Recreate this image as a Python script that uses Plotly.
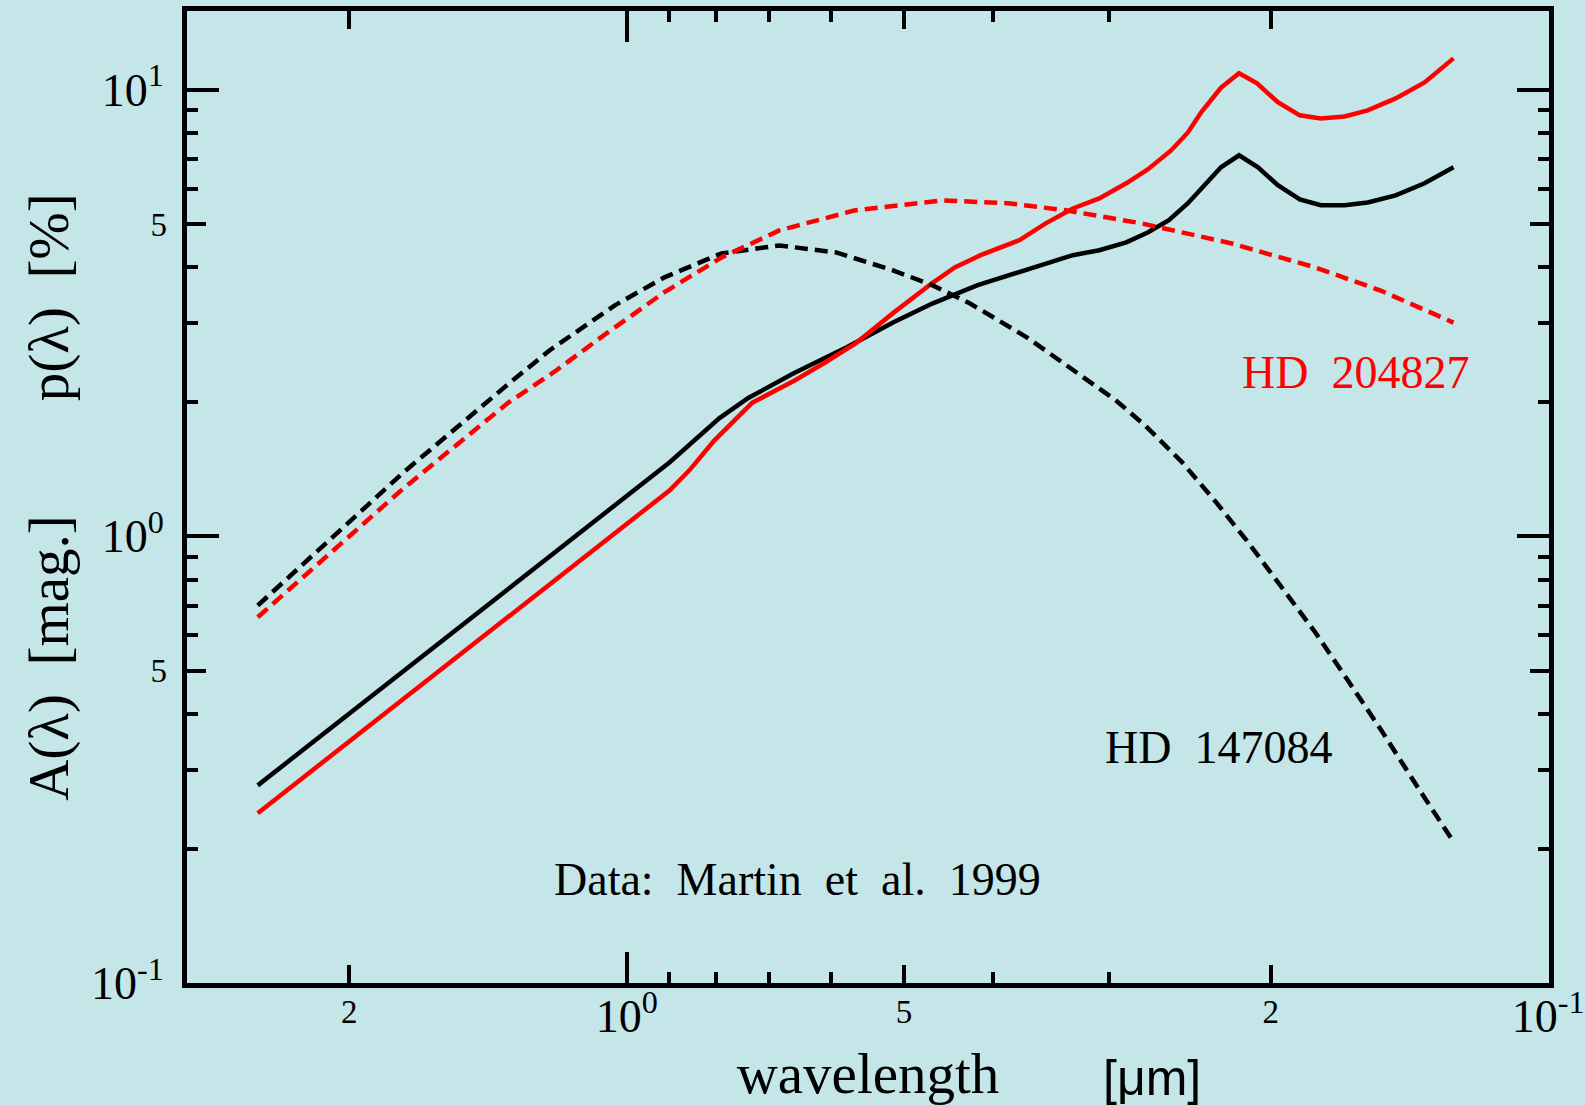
import math
import plotly.graph_objects as go

# ---------------- data ----------------
# HD 147084 extinction A(lambda) [mag]
lam_A147 = [2.514, 0.898, 0.793, 0.738, 0.658, 0.577, 0.514, 0.466, 0.416, 0.375,
            0.328, 0.307, 0.287, 0.272, 0.258, 0.246, 0.236, 0.2265, 0.2165, 0.2065,
            0.1965, 0.186, 0.1765, 0.1663, 0.157, 0.1464, 0.1362, 0.1267]
A147 = [0.277, 1.465, 1.84, 2.04, 2.32, 2.65, 3.01, 3.32, 3.65, 3.90,
        4.26, 4.37, 4.55, 4.79, 5.10, 5.57, 6.11, 6.70, 7.13, 6.70,
        6.11, 5.68, 5.51, 5.51, 5.59, 5.80, 6.17, 6.70]

# HD 204827 extinction A(lambda) [mag]
lam_A204 = [2.514, 0.898, 0.855, 0.803, 0.731, 0.658, 0.609, 0.565, 0.514, 0.466,
            0.4405, 0.413, 0.375, 0.351, 0.328, 0.307, 0.287, 0.272, 0.2566, 0.246,
            0.238, 0.2265, 0.2165, 0.207, 0.1965, 0.186, 0.1765, 0.1663, 0.157,
            0.1464, 0.1362, 0.1267]
A204 = [0.240, 1.268, 1.405, 1.64, 1.99, 2.23, 2.45, 2.70, 3.16, 3.69,
        4.00, 4.26, 4.60, 5.02, 5.42, 5.71, 6.17, 6.63, 7.31, 8.02,
        8.90, 10.1, 10.88, 10.33, 9.37, 8.76, 8.62, 8.71, 8.99,
        9.56, 10.38, 11.75]

# HD 147084 polarization p(lambda) [%]
lam_p147 = [2.514, 1.747, 1.345, 1.212, 1.03, 0.910, 0.789, 0.683, 0.5925, 0.514,
            0.466, 0.424, 0.368, 0.3186, 0.2949, 0.2737, 0.250, 0.2299, 0.2117, 0.195,
            0.179, 0.165, 0.152, 0.1396, 0.1264]
p147 = [0.70, 1.39, 2.19, 2.61, 3.29, 3.80, 4.30, 4.48, 4.32, 3.94,
        3.65, 3.32, 2.79, 2.27, 2.02, 1.77, 1.47, 1.20, 0.97, 0.773,
        0.61, 0.476, 0.370, 0.281, 0.2055]

# HD 204827 polarization p(lambda) [%]
lam_p204 = [2.514, 1.747, 1.345, 1.242, 1.2, 1.051, 0.910, 0.789, 0.683, 0.565,
            0.454, 0.386, 0.334, 0.2764, 0.221, 0.179, 0.152, 0.1267]
p204 = [0.659, 1.28, 1.99, 2.22, 2.33, 2.85, 3.52, 4.21, 4.84, 5.37,
        5.65, 5.57, 5.37, 5.02, 4.53, 4.00, 3.55, 3.01]

# axes
x_range = [3.0, 0.0998]
y_range = [0.1, 15.0]
x_major = [1.0, 0.1]
x_major_text = ["10<sup>0</sup>", "10<sup>-1</sup>"]
x_mid = [2.0, 0.5, 0.2]
x_mid_text = ["2", "5", "2"]
x_minor = [0.9, 0.8, 0.7, 0.6, 0.4, 0.3]
y_major = [0.1, 1.0, 10.0]
y_major_text = ["10<sup>-1</sup>", "10<sup>0</sup>", "10<sup>1</sup>"]
y_mid = [0.5, 5.0]
y_mid_text = ["5", "5"]
y_minor = [0.2, 0.3, 0.4, 0.6, 0.7, 0.8, 0.9, 2, 3, 4, 6, 7, 8, 9]

# ---------------- figure ----------------
BG = "#C4E6E8"
SERIF = "Liberation Serif"
DASH = "13px,7px"
NB = "\u00a0"
LW = 4.5

fig = go.Figure()
fig.add_trace(go.Scatter(x=lam_p147, y=p147, mode="lines", name="p HD 147084",
                         xaxis="x2", yaxis="y2",
                         line=dict(color="black", width=LW, dash=DASH)))
fig.add_trace(go.Scatter(x=lam_p204, y=p204, mode="lines", name="p HD 204827",
                         xaxis="x2", yaxis="y2",
                         line=dict(color="#FF0000", width=LW, dash=DASH)))
fig.add_trace(go.Scatter(x=lam_A147, y=A147, mode="lines", name="A HD 147084",
                         line=dict(color="black", width=LW)))
fig.add_trace(go.Scatter(x=lam_A204, y=A204, mode="lines", name="A HD 204827",
                         line=dict(color="#FF0000", width=LW)))

xr = [math.log10(v) for v in x_range]
yr = [math.log10(v) for v in y_range]

common = dict(type="log", showgrid=False, zeroline=False, ticks="inside",
              tickcolor="black", tickwidth=4, mirror="ticks", automargin=False)

ytitle = ("A(λ)" + NB * 2 + "[mag.]" + NB * 8 + "p(λ)" + NB * 2 + "[%]")

fig.update_layout(
    width=1585, height=1105,
    margin=dict(l=187, r=36, t=11, b=122),
    paper_bgcolor=BG, plot_bgcolor=BG,
    showlegend=False,
    font=dict(family=SERIF, color="black"),
    xaxis=dict(**common, range=xr, showline=True, linewidth=5, linecolor="black",
               ticklen=31, tickvals=x_major, ticktext=x_major_text,
               tickfont=dict(family=SERIF, size=46, color="black"),
               ticklabelstandoff=-11,
               minor=dict(tickvals=x_minor, ticks="inside", ticklen=11, tickwidth=4,
                          tickcolor="black", showgrid=False),
               title=dict(text="wavelength", font=dict(family=SERIF, size=57),
                          standoff=27)),
    xaxis2=dict(**common, range=xr, overlaying="x", anchor="y2", side="bottom",
                showline=False, ticklen=18, tickvals=x_mid, ticktext=x_mid_text,
                tickfont=dict(family=SERIF, size=33, color="black"),
                ticklabelstandoff=6),
    yaxis=dict(**common, range=yr, showline=True, linewidth=5, linecolor="black",
               ticklen=32, tickvals=y_major, ticktext=y_major_text,
               tickfont=dict(family=SERIF, size=46, color="black"),
               ticklabelstandoff=9,
               minor=dict(tickvals=y_minor, ticks="inside", ticklen=11, tickwidth=4,
                          tickcolor="black", showgrid=False),
               title=dict(text=ytitle, font=dict(family=SERIF, size=57), standoff=6)),
    yaxis2=dict(**common, range=yr, overlaying="y", anchor="x2", side="left",
                showline=False, ticklen=19, tickvals=y_mid, ticktext=y_mid_text,
                tickfont=dict(family=SERIF, size=33, color="black"),
                ticklabelstandoff=19),
)

ann = dict(xref="paper", yref="paper", showarrow=False, xanchor="center", yanchor="middle")
fig.add_annotation(text="HD" + NB * 2 + "204827", x=0.8576, y=0.6276,
                   font=dict(family=SERIF, size=46, color="#FF0000"), **ann)
fig.add_annotation(text="HD" + NB * 2 + "147084", x=0.757, y=0.2418,
                   font=dict(family=SERIF, size=46, color="black"), **ann)
fig.add_annotation(text="Data:" + NB * 2 + "Martin" + NB * 2 + "et" + NB * 2 + "al." + NB * 2 + "1999",
                   x=0.4479, y=0.106,
                   font=dict(family=SERIF, size=46, color="black"), **ann)
fig.add_annotation(text="[μm]", x=(1152 - 187) / 1362, y=-0.0977,
                   font=dict(family="Liberation Sans", size=50, color="black"), **ann)

fig.write_html("out.html")
